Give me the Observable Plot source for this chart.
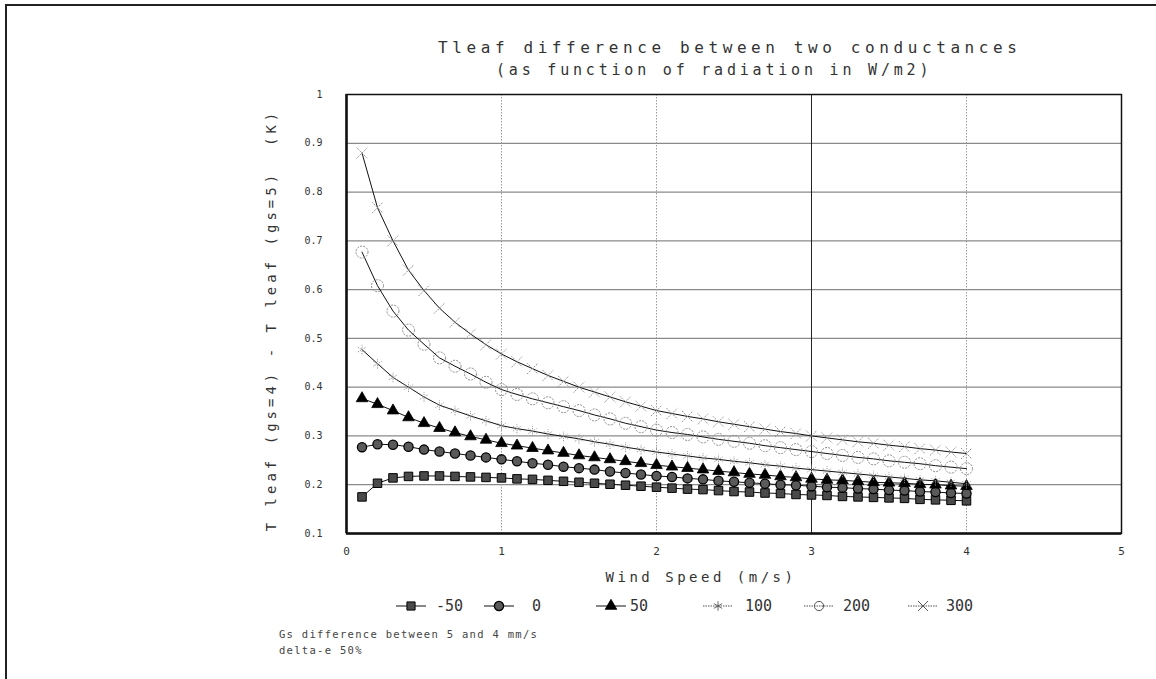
<!DOCTYPE html>
<html>
<head>
<meta charset="utf-8">
<script src="https://cdn.jsdelivr.net/npm/d3@7"></script>
<script src="https://cdn.jsdelivr.net/npm/@observablehq/plot@0.6"></script>
<style>
html, body { margin: 0; padding: 0; background: #fff; }
body { width: 1156px; height: 679px; position: relative; overflow: hidden;
       font-family: "DejaVu Sans Mono", monospace; color: #333; }
#border { position: absolute; left: 5px; top: 4px; width: 1200px; height: 700px;
          border-left: 2px solid #222; border-top: 2px solid #222; }
.t { position: absolute; white-space: pre; line-height: 20px; }
#title { left: 438px; top: 38px; font-size: 16px; letter-spacing: 4.6px; }
#subtitle { left: 496px; top: 60px; font-size: 15px; letter-spacing: 3.8px; }
#chart { position: absolute; left: 0; top: 84px; }
.lg-sw { position: absolute; top: 598px; }
.lg-tx { position: absolute; top: 596px; font-size: 15px; line-height: 20px; white-space: pre; }
.foot { position: absolute; left: 279px; font-size: 10.5px; letter-spacing: 1.3px; line-height: 14px; white-space: pre; color: #444; }
</style>
</head>
<body>
<div id="border"></div>
<div id="title" class="t">Tleaf difference between two conductances</div>
<div id="subtitle" class="t">(as function of radiation in W/m2)</div>
<div id="chart"></div>
<div id="legend"></div>
<div class="foot" style="top:627px">Gs difference between 5 and 4 mm/s</div>
<div class="foot" style="top:643px">delta-e 50%</div>
<script>
// ---- data ----
const windSpeed = [0.1,0.2,0.3,0.4,0.5,0.6,0.7,0.8,0.9,1.0,1.1,1.2,1.3,1.4,1.5,1.6,1.7,1.8,1.9,2.0,
                   2.1,2.2,2.3,2.4,2.5,2.6,2.7,2.8,2.9,3.0,3.1,3.2,3.3,3.4,3.5,3.6,3.7,3.8,3.9,4.0];
const radNames = ["-50", "0", "50", "100", "200", "300"];
const radM50 = [.175,.203,.214,.217,.218,.218,.217,.216,.215,.214,.212,.211,.209,.207,.205,.203,.201,.199,.197,.195,
                .193,.191,.190,.188,.186,.185,.183,.182,.180,.179,.178,.176,.175,.174,.173,.172,.170,.169,.168,.167];
const rad0   = [.277,.283,.282,.278,.272,.268,.264,.260,.256,.252,.248,.244,.241,.237,.234,.231,.227,.224,.221,.218,
                .216,.213,.211,.208,.206,.204,.202,.200,.199,.197,.195,.194,.192,.191,.189,.188,.186,.185,.183,.182];
const rad50  = [.377,.365,.352,.338,.326,.316,.307,.299,.292,.285,.280,.275,.270,.265,.260,.256,.252,.248,.244,.240,
                .237,.234,.231,.228,.225,.222,.220,.217,.215,.212,.210,.209,.207,.205,.204,.203,.201,.200,.198,.197];
const rad100 = [.477,.448,.420,.400,.380,.363,.352,.341,.331,.321,.315,.310,.304,.299,.294,.288,.283,.277,.272,.267,
                .263,.259,.255,.252,.248,.245,.241,.238,.234,.231,.228,.225,.222,.219,.216,.213,.210,.208,.205,.202];
const rad200 = [.677,.608,.556,.517,.488,.460,.443,.427,.410,.395,.385,.376,.368,.360,.352,.343,.335,.326,.319,.312,
                .307,.303,.298,.293,.289,.285,.280,.276,.272,.268,.264,.260,.256,.253,.249,.246,.243,.239,.236,.233];
const rad300 = [.880,.768,.700,.640,.598,.562,.533,.509,.487,.468,.452,.438,.424,.412,.400,.390,.380,.370,.361,.352,
                .346,.340,.335,.329,.324,.319,.314,.309,.305,.300,.296,.292,.288,.285,.281,.278,.274,.271,.267,.264];
const xTicks = [0, 1, 2, 3, 4, 5];
const yTicks = [0.1, 0.2, 0.3, 0.4, 0.5, 0.6, 0.7, 0.8, 0.9, 1];
const yGrid = [0.2, 0.3, 0.4, 0.5, 0.6, 0.7, 0.8, 0.9];
const xGridDotted = [1, 2, 4];
const xGridSolid = [3];
const xLabel = "Wind Speed (m/s)";
const yLabel = "T leaf (gs=4) - T leaf (gs=5)  (K)";

// ---- styles per series ----
const seriesValues = [radM50, rad0, rad50, rad100, rad200, rad300];
const styles = [
  {symbol: "square",   r: 4.8, fill: "#4a4a4a", stroke: "#000", strokeWidth: 1, line: "#111"},
  {symbol: "circle",   r: 4.6, fill: "#5a5a5a", stroke: "#000", strokeWidth: 1.3, line: "#111"},
  {symbol: "triangle", r: 4.3, fill: "#000", stroke: "#000", strokeWidth: 0.8, line: "#111"},
  {symbol: "asterisk", r: 4.5, fill: "none", stroke: "#8c8c8c", strokeWidth: 0.9, dash: "1.2,1", line: "#111"},
  {symbol: "circle",   r: 6,   fill: "none", stroke: "#8c8c8c", strokeWidth: 1, dash: "2,1.2", line: "#111"},
  {symbol: "times",    r: 5,   fill: "none", stroke: "#8c8c8c", strokeWidth: 1, dash: "1.5,1", line: "#111"}
];

const rows = [];
radNames.forEach((name, k) => seriesValues[k].forEach((v, i) => rows.push({wind: windSpeed[i], dT: v, rad: name})));

const lineMarks = radNames.map((name, k) =>
  Plot.line(rows.filter(d => d.rad === name), {x: "wind", y: "dT", stroke: styles[k].line, strokeWidth: 1}));
const dotMarks = radNames.map((name, k) => {
  const s = styles[k];
  return Plot.dot(rows.filter(d => d.rad === name), {
    x: "wind", y: "dT", symbol: s.symbol, r: s.r, fill: s.fill, stroke: s.stroke,
    strokeWidth: s.strokeWidth, strokeDasharray: s.dash
  });
});

const chart = Plot.plot({
  width: 1156, height: 511,
  marginLeft: 346, marginRight: 35, marginTop: 10, marginBottom: 62,
  x: {domain: [0, 5]},
  y: {domain: [0.1, 1]},
  style: {fontFamily: "DejaVu Sans Mono", background: "transparent", color: "#333"},
  marks: [
    Plot.ruleY(yGrid, {stroke: "#8a8a8a", strokeWidth: 1.3}),
    Plot.ruleX(xGridDotted, {stroke: "#9a9a9a", strokeWidth: 1, strokeDasharray: "1.5,1.5"}),
    Plot.ruleX(xGridSolid, {stroke: "#222", strokeWidth: 1}),
    ...lineMarks,
    ...dotMarks,
    Plot.frame({stroke: "#111", strokeWidth: 1.5}),
    Plot.ruleX([0], {stroke: "#111", strokeWidth: 2.5}),
    Plot.ruleY([0.1], {stroke: "#111", strokeWidth: 2.5}),
    Plot.axisX(xTicks, {tickSize: 0, tickPadding: 14, fontSize: 11, label: null, color: "#333",
                        tickFormat: d => String(d)}),
    Plot.axisY(yTicks, {tickSize: 0, tickPadding: 24, fontSize: 10, label: null, color: "#333",
                        tickFormat: d => d === 1 ? "1" : d.toFixed(1)}),
    Plot.text([xLabel], {text: d => d, frameAnchor: "bottom", textAnchor: "middle", lineAnchor: "middle",
                         dy: 44, dx: -33, fontSize: 14, fill: "#333"}),
    Plot.text([yLabel], {text: d => d, frameAnchor: "left", textAnchor: "middle", lineAnchor: "middle",
                         rotate: -90, dx: -75, dy: 6, fontSize: 14, fill: "#333"})
  ]
});
d3.select(chart).selectAll("text").filter(function() { return this.textContent === xLabel; })
  .style("letter-spacing", "3.5px");
d3.select(chart).selectAll("text").filter(function() { return this.textContent === yLabel; })
  .style("letter-spacing", "4px");
document.getElementById("chart").appendChild(chart);

// ---- legend ----
const symbolTypes = {square: d3.symbolSquare, circle: d3.symbolCircle, triangle: d3.symbolTriangle,
                     asterisk: d3.symbolAsterisk, times: d3.symbolTimes};
const legendSwatchLeft = [396, 484, 596, 703, 804, 908];
const legendTextLeft = [436, 532, 630, 745, 843, 946];
const legend = document.getElementById("legend");
radNames.forEach((name, k) => {
  const s = styles[k];
  const svg = d3.create("svg").attr("class", "lg-sw").attr("width", 30).attr("height", 16)
    .style("left", legendSwatchLeft[k] + "px");
  svg.append("line").attr("x1", 0).attr("x2", 30).attr("y1", 8).attr("y2", 8)
    .attr("stroke", k < 3 ? "#111" : "#555").attr("stroke-width", 1)
    .attr("stroke-dasharray", k < 3 ? null : "1.5,1");
  const r = Math.min(s.r, 4.6);
  svg.append("path").attr("transform", "translate(15,8)")
    .attr("d", d3.symbol(symbolTypes[s.symbol], Math.PI * r * r)())
    .attr("fill", s.fill).attr("stroke", k < 3 ? s.stroke : "#555").attr("stroke-width", s.strokeWidth);
  legend.appendChild(svg.node());
  const tx = document.createElement("div");
  tx.className = "lg-tx";
  tx.style.left = legendTextLeft[k] + "px";
  tx.textContent = name;
  legend.appendChild(tx);
});
</script>
</body>
</html>
